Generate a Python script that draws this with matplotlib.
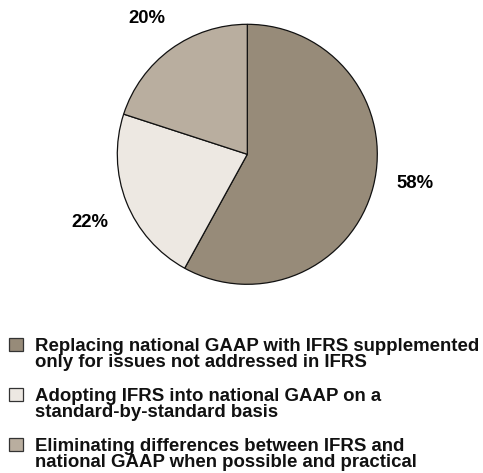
import matplotlib
matplotlib.use("Agg")
import matplotlib.pyplot as plt
from matplotlib.patches import Rectangle
import numpy as np

# approach shares, in pie order (clockwise from 12 o'clock)
shares = [58, 22, 20]
pct_labels = ["58%", "22%", "20%"]
slice_colors = ["#978b79", "#ede8e2", "#b9ae9f"]
legend_lines = [
    ["Replacing national GAAP with IFRS supplemented",
     "only for issues not addressed in IFRS"],
    ["Adopting IFRS into national GAAP on a",
     "standard-by-standard basis"],
    ["Eliminating differences between IFRS and",
     "national GAAP when possible and practical"],
]

W, H = 483, 473
plt.rcParams['font.family'] = ['Liberation Sans', 'DejaVu Sans']

fig = plt.figure(figsize=(W / 100, H / 100), dpi=100)
fig.patch.set_facecolor("white")

# pie sits in a square box, centre (247, 154) px, radius 130 px
cx, cy, r = 247.3, 154.3, 130
ax = fig.add_axes([(cx - r) / W, (H - cy - r) / H, 2 * r / W, 2 * r / H])
wedges, texts = ax.pie(shares, labels=pct_labels, colors=slice_colors,
                       startangle=90, counterclock=False, labeldistance=1.31,
                       wedgeprops=dict(edgecolor="#111111", linewidth=0.9),
                       textprops=dict(fontsize=13.3, fontweight="bold"))
ax.set_xlim(-1, 1)
ax.set_ylim(-1, 1)

# nudge the percentage labels a little round the rim
nudge = [4.6, 1.8, 0.3]
dist = [1.31, 1.32, 1.30]
for w, t, dn, d in zip(wedges, texts, nudge, dist):
    ang = np.deg2rad((w.theta1 + w.theta2) / 2 + dn)
    t.set_position((d * np.cos(ang), d * np.sin(ang)))
    t.set_ha("center")
    t.set_va("center")

# legend drawn in pixel coordinates
lax = fig.add_axes([0, 0, 1, 1])
lax.set_xlim(0, W)
lax.set_ylim(H, 0)
lax.axis("off")

row_top = [337, 387, 437]
for top, col, lines in zip(row_top, slice_colors, legend_lines):
    lax.add_patch(Rectangle((8.5, top + 0.5), 14, 13.5, facecolor=col,
                            edgecolor="#333333", linewidth=0.9))
    for k, line in enumerate(lines):
        lax.text(35, top + 14 + k * 15.6, line, fontsize=13.4, fontweight="bold",
                 ha="left", va="baseline", color="#111111")

fig.savefig("out.png", dpi=100)
